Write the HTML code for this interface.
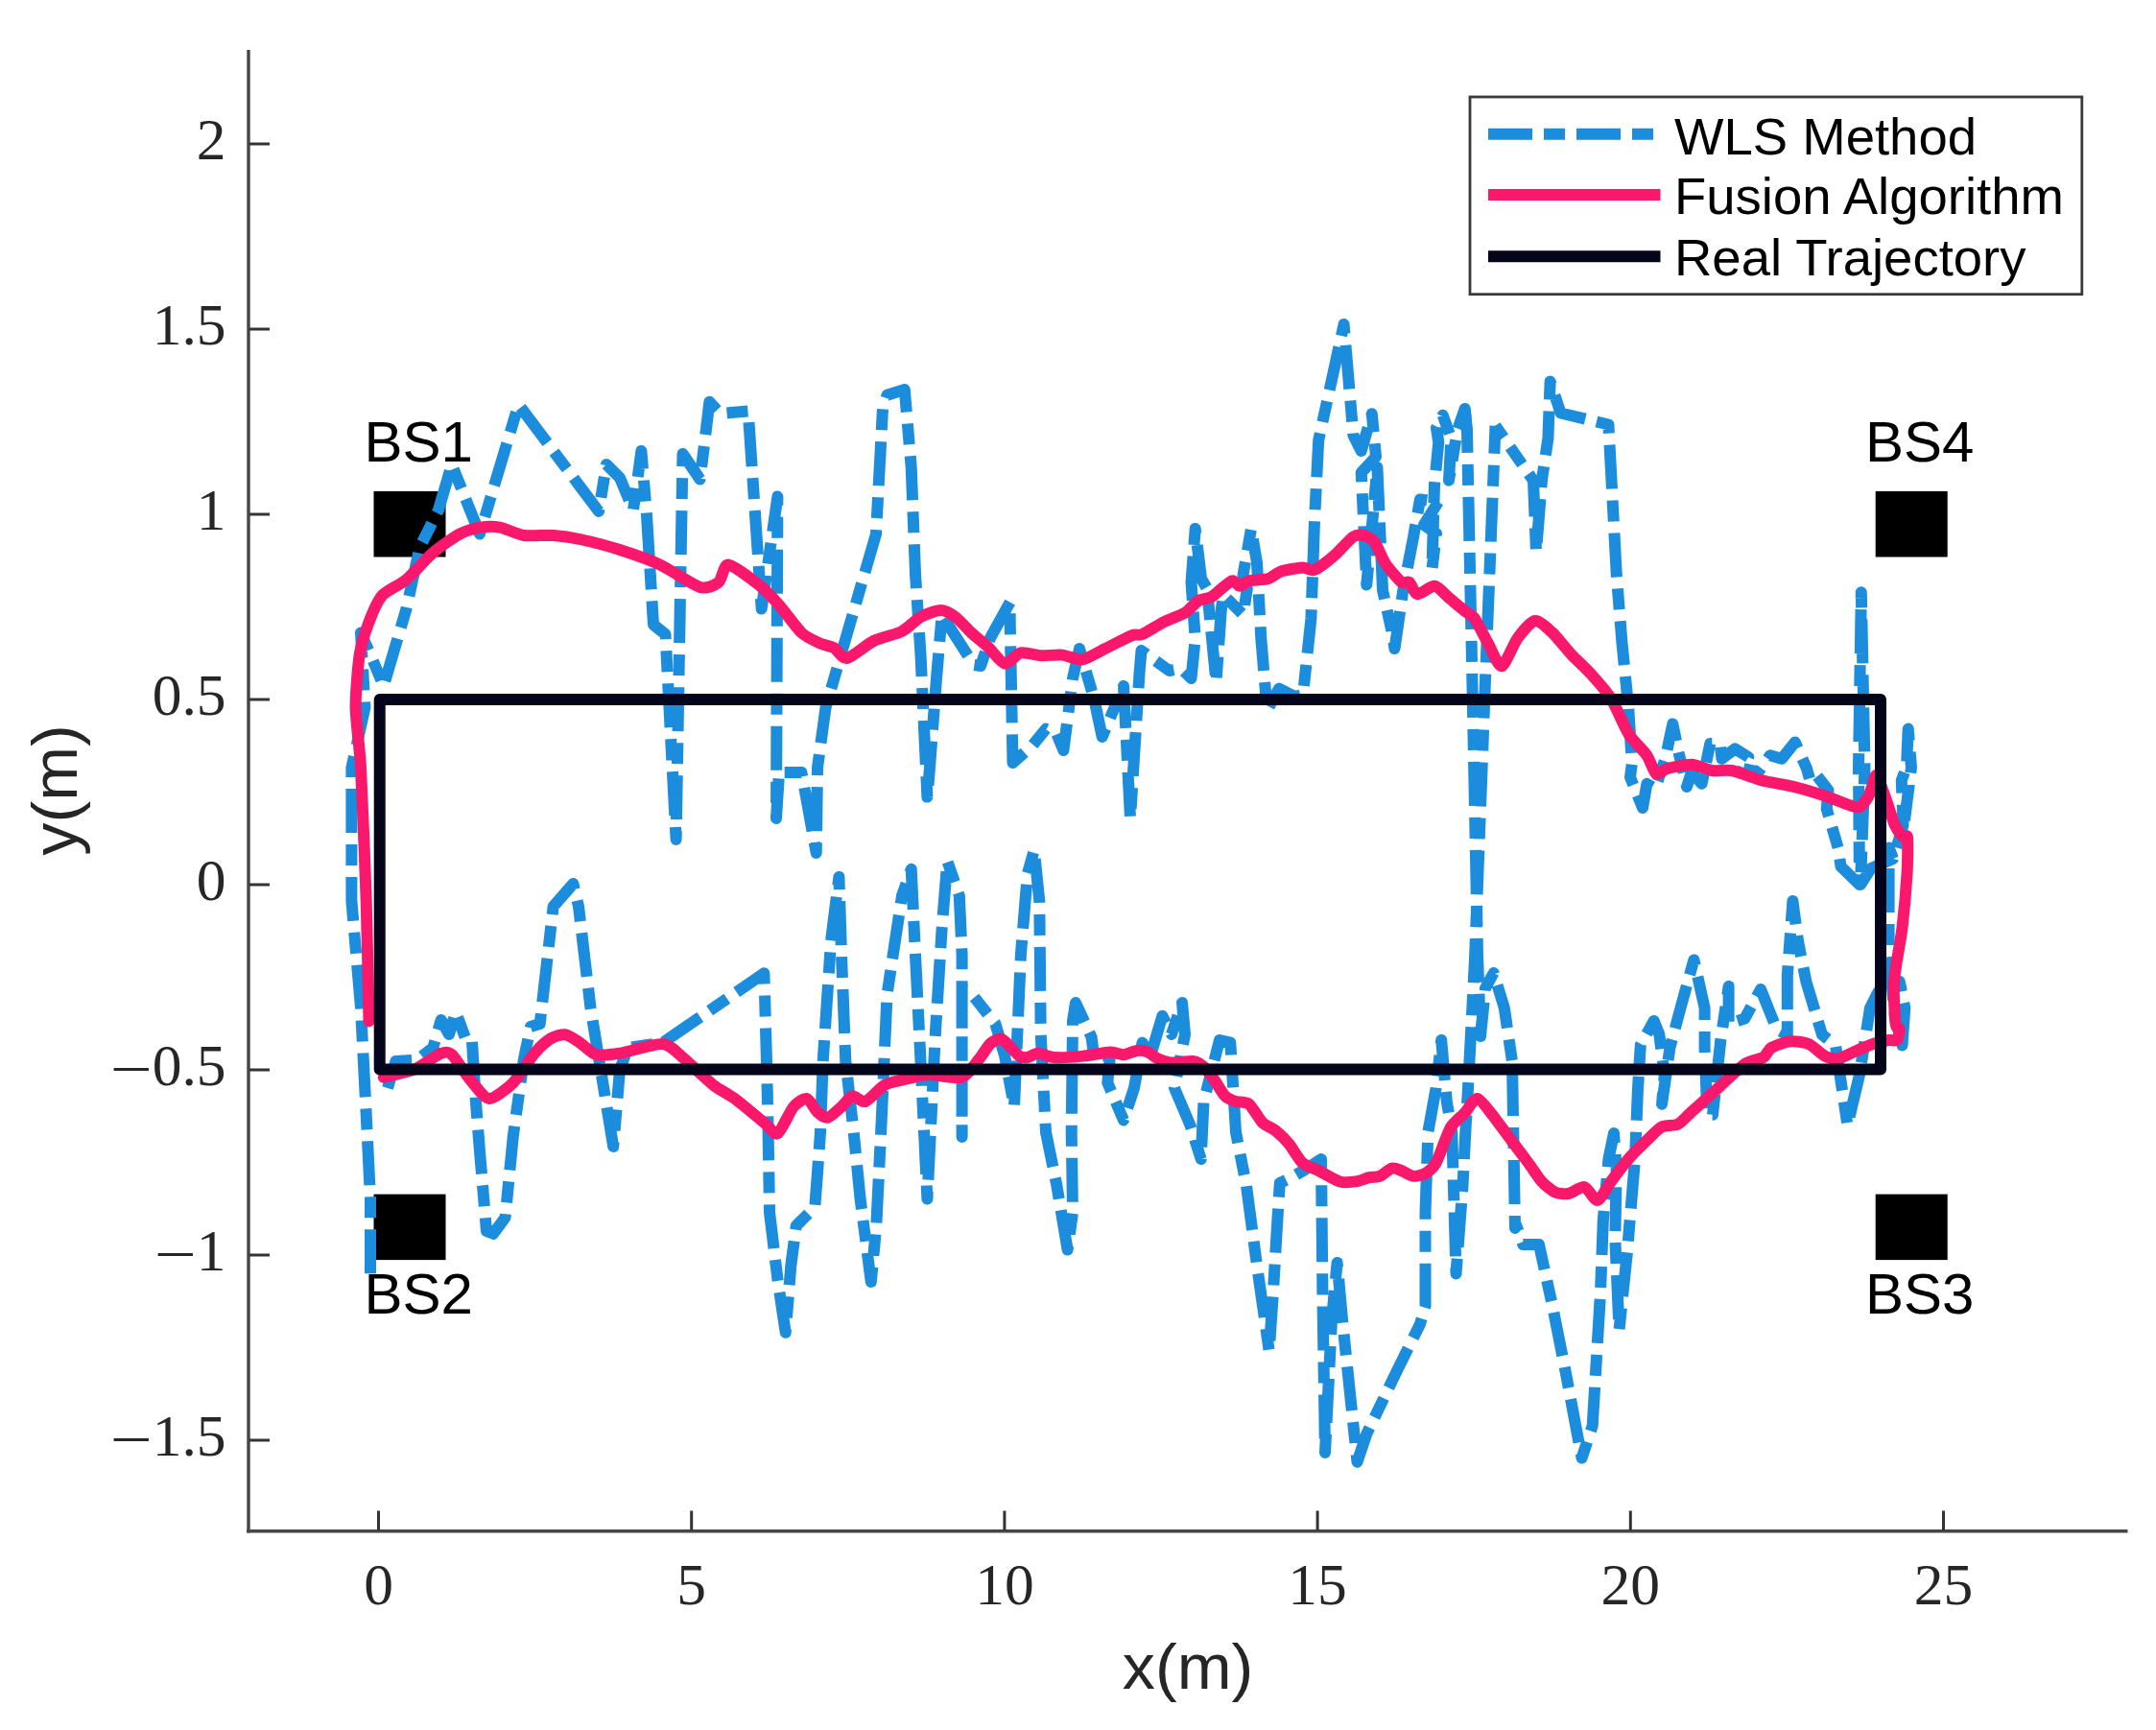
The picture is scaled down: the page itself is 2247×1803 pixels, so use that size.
<!DOCTYPE html><html><head><meta charset="utf-8"><title>Trajectory</title>
<style>html,body{margin:0;padding:0;background:#fff}svg{display:block}.tk{font-family:"Liberation Serif",serif;font-size:61.5px;fill:#262626}.lb{font-family:"Liberation Sans",sans-serif;fill:#262626}.bs{font-family:"Liberation Sans",sans-serif;font-size:60px;fill:#000}.lg{font-family:"Liberation Sans",sans-serif;font-size:54.5px;fill:#000}</style></head><body>
<svg width="2247" height="1803" viewBox="0 0 2247 1803">
<rect width="100%" height="100%" fill="#fff"/>
<g stroke="#464646" stroke-width="3.4" fill="none">
<line x1="259" y1="52" x2="259" y2="1597.5"/><line x1="257.2" y1="1595.8" x2="2217.5" y2="1595.8"/></g>
<g stroke="#333" stroke-width="3" fill="none">
<line x1="394.5" y1="1574.5" x2="394.5" y2="1595"/>
<line x1="720.7" y1="1574.5" x2="720.7" y2="1595"/>
<line x1="1046.9" y1="1574.5" x2="1046.9" y2="1595"/>
<line x1="1373.1" y1="1574.5" x2="1373.1" y2="1595"/>
<line x1="1699.3" y1="1574.5" x2="1699.3" y2="1595"/>
<line x1="2025.5" y1="1574.5" x2="2025.5" y2="1595"/>
<line x1="260" y1="150.0" x2="281" y2="150.0"/>
<line x1="260" y1="343.0" x2="281" y2="343.0"/>
<line x1="260" y1="536.0" x2="281" y2="536.0"/>
<line x1="260" y1="729.0" x2="281" y2="729.0"/>
<line x1="260" y1="922.0" x2="281" y2="922.0"/>
<line x1="260" y1="1115.0" x2="281" y2="1115.0"/>
<line x1="260" y1="1308.0" x2="281" y2="1308.0"/>
<line x1="260" y1="1501.0" x2="281" y2="1501.0"/>
</g>
<text class="tk" x="394.5" y="1671.5" text-anchor="middle">0</text>
<text class="tk" x="720.7" y="1671.5" text-anchor="middle">5</text>
<text class="tk" x="1046.9" y="1671.5" text-anchor="middle">10</text>
<text class="tk" x="1373.1" y="1671.5" text-anchor="middle">15</text>
<text class="tk" x="1699.3" y="1671.5" text-anchor="middle">20</text>
<text class="tk" x="2025.5" y="1671.5" text-anchor="middle">25</text>
<text class="tk" x="235.5" y="165.5" text-anchor="end">2</text>
<text class="tk" x="235.5" y="358.5" text-anchor="end">1.5</text>
<text class="tk" x="235.5" y="551.5" text-anchor="end">1</text>
<text class="tk" x="235.5" y="744.5" text-anchor="end">0.5</text>
<text class="tk" x="235.5" y="937.5" text-anchor="end">0</text>
<text class="tk" x="235.5" y="1130.5" text-anchor="end"><tspan dy="4" textLength="44" lengthAdjust="spacingAndGlyphs">−</tspan><tspan dy="-4">0.5</tspan></text>
<text class="tk" x="235.5" y="1323.5" text-anchor="end"><tspan dy="4" textLength="44" lengthAdjust="spacingAndGlyphs">−</tspan><tspan dy="-4">1</tspan></text>
<text class="tk" x="235.5" y="1516.5" text-anchor="end"><tspan dy="4" textLength="44" lengthAdjust="spacingAndGlyphs">−</tspan><tspan dy="-4">1.5</tspan></text>
<text class="lb" font-size="66" x="1238" y="1760" text-anchor="middle" textLength="136.4" lengthAdjust="spacingAndGlyphs">x(m)</text>
<text class="lb" font-size="66" transform="translate(79.5,823.5) rotate(-90)" text-anchor="middle" textLength="136.4" lengthAdjust="spacingAndGlyphs">y(m)</text>
<rect x="389.5" y="512.0" width="75" height="68.5" fill="#000"/>
<rect x="1954.7" y="512.0" width="75" height="68.5" fill="#000"/>
<rect x="389.5" y="1244.6" width="75" height="68.5" fill="#000"/>
<rect x="1954.7" y="1244.6" width="75" height="68.5" fill="#000"/>
<text class="bs" x="379.5" y="481" >BS1</text><text class="bs" x="1944" y="481" >BS4</text>
<text class="bs" x="379.5" y="1368.7" >BS2</text><text class="bs" x="1944" y="1368.7" >BS3</text>
<g fill="none" stroke="#1c8cdc" stroke-width="12" stroke-linejoin="round" stroke-dasharray="46 12 22 12">
<polyline points="404.0,1134.0 412.4,1106.0 434.6,1104.8 451.3,1092.0 459.7,1063.0 468.0,1078.0 475.0,1054.7 484.7,1081.0 491.7,1081.0 495.9,1148.0 500.0,1200.0 507.0,1283.0 514.0,1285.8 526.5,1269.0 534.8,1184.0 546.0,1103.4 553.0,1070.0 562.7,1067.0 576.6,944.7 597.4,921.0 603.0,944.7 615.5,1050.5 639.2,1195.0 646.0,1114.5 654.5,1092.0 690.7,1086.7 796.4,1014.3 799.2,1114.5 800.6,1180.0 802.0,1263.5 810.4,1333.0 818.7,1388.7 824.3,1319.0 829.8,1277.4 849.3,1258.0 852.0,1221.7 855.0,1180.0 857.7,1106.0 866.0,981.0 874.4,914.0 877.0,995.0 881.3,1106.0 889.7,1180.0 896.6,1249.6 907.8,1335.9 913.3,1277.4 919.0,1161.8 924.5,1036.6 940.0,933.6 949.7,905.8 954.0,995.0 959.5,1106.0 966.4,1249.6 974.8,1078.0 981.7,967.0 987.3,897.4 999.8,933.6 1002.6,995.0 1002.6,1185.0 1002.6,1030.0 1012.0,1035.0 1037.4,1067.0 1047.0,1100.0 1057.0,1153.5 1063.9,995.0 1070.8,911.0 1077.8,886.0 1083.3,939.0 1084.7,1078.0 1090.0,1180.0 1101.4,1235.7 1112.6,1302.5 1118.0,1263.5 1116.7,1180.0 1118.0,1064.0 1121.0,1045.0 1137.6,1081.0 1140.0,1100.0 1157.0,1100.0 1154.3,1128.4 1171.0,1167.4 1182.0,1134.0 1190.5,1086.7 1199.0,1100.6 1211.4,1058.8 1221.0,1078.0 1232.0,1045.0 1235.0,1078.0 1224.0,1134.0 1240.6,1173.0 1251.7,1208.0 1254.5,1148.0 1271.0,1084.0 1282.3,1086.7 1288.0,1180.0 1299.0,1235.7 1310.0,1319.0 1322.7,1408.0 1326.9,1347.0 1331.0,1277.4 1333.8,1233.0 1346.4,1227.0 1360.0,1219.0 1377.0,1208.0 1378.4,1347.0 1381.0,1514.0 1388.0,1375.0 1393.6,1316.0 1399.0,1375.0 1407.6,1458.0 1414.5,1523.7 1424.3,1494.5 1455.0,1430.5 1480.0,1380.0 1485.5,1361.0 1485.5,1263.5 1488.3,1180.0 1496.6,1134.0 1502.2,1084.0 1507.8,1148.0 1513.3,1180.0 1517.5,1327.5 1524.5,1235.7 1527.3,1180.0 1530.0,1134.0 1537.0,1000.0 1548.0,709.0 1558.5,443.7"/>
<polyline points="1526.7,426.0 1529.0,450.0 1534.4,709.0 1540.0,995.0 1543.0,1080.0 1548.0,1030.0 1556.7,1014.0 1567.8,1050.5 1576.0,1106.0 1579.0,1280.0 1580.4,1277.4 1587.3,1297.0 1604.0,1297.0 1618.0,1361.0 1631.8,1430.5 1648.5,1519.5 1659.7,1486.0 1662.5,1439.0 1668.0,1347.0 1670.8,1272.0 1676.4,1208.0 1682.0,1181.0 1684.7,1217.5 1683.3,1291.0 1687.5,1386.0 1695.9,1305.0 1704.0,1208.0 1707.0,1134.0 1709.8,1089.0 1723.7,1064.0 1729.3,1078.0 1734.8,1120.0 1732.0,1150.7 1740.4,1092.0 1751.5,1050.5 1759.9,1020.0 1765.4,1000.4 1776.6,1050.5 1776.6,1092.0 1779.3,1161.8 1785.0,1161.8 1793.3,1084.0 1801.6,1028.0 1801.6,1067.0 1818.3,1061.6 1835.0,1031.0 1851.7,1072.7 1862.8,1078.3 1862.8,1017.0 1868.4,939.0 1874.0,981.0 1882.3,1022.7 1899.0,1078.3 1913.0,1089.4 1925.5,1173.0 1938.0,1120.0 1949.0,1050.5 1957.5,1033.8 1975.0,1030.0 1979.7,1022.7 1985.3,1050.5 1982.5,1089.4 1975.0,1060.0 1968.6,995.0 1968.6,883.5 1973.0,895.0 1983.5,860.0 1981.8,813.3 1987.0,799.4 1988.7,759.6 1992.0,800.0 1985.0,855.0"/>
<polyline points="1973.0,895.0 1950.0,905.0 1939.0,922.0 1943.5,800.0 1939.8,617.3 1937.0,800.0 1938.0,922.0 1918.5,903.0 1915.9,884.4 1903.7,842.8 1905.5,823.7 1893.3,808.0 1886.4,813.3 1883.0,801.0 1870.8,773.4 1857.0,790.8 1844.8,787.3 1832.6,804.6 1817.0,801.0 1822.2,789.0 1808.3,780.4 1794.5,790.8 1792.7,775.0 1782.3,775.0 1773.6,816.8 1763.0,804.6 1758.0,820.0 1749.4,783.8 1743.3,754.4 1735.5,791.0 1725.0,822.0 1716.4,816.8 1712.0,842.0 1699.0,810.0 1700.8,796.0 1697.3,738.7 1690.4,669.4 1684.7,598.3 1676.4,442.5 1626.6,430.5 1615.6,397.6 1613.4,456.8 1607.0,500.0 1601.0,575.0 1598.0,500.7 1558.5,443.7"/>
<polyline points="1529.0,450.0 1526.7,426.0 1519.0,448.0 1510.0,500.7 1512.4,456.8 1503.7,432.7 1497.0,446.0 1499.3,461.0 1495.0,505.0 1492.5,593.0 1497.0,556.0 1484.0,547.0 1499.0,523.0 1480.0,520.4 1473.0,560.0 1462.0,617.0 1453.5,676.0 1451.0,660.0 1441.0,615.0 1435.4,487.0 1424.3,609.5 1418.7,492.6 1434.0,476.0 1429.8,431.3 1418.7,470.0 1410.4,453.6 1400.6,338.0 1374.2,459.0 1370.0,542.7 1366.4,644.8 1358.0,723.9 1349.7,726.0 1333.0,717.6 1320.6,740.5 1314.3,665.6 1310.0,586.6 1304.0,551.0 1295.6,599.0 1299.8,613.6 1295.6,640.6 1274.8,620.0 1272.7,636.5 1267.5,711.0 1262.0,655.0 1258.0,613.6 1252.0,603.0 1245.7,551.0 1241.5,607.0 1245.7,665.6 1241.5,707.0 1231.0,696.8 1218.6,699.0 1189.5,678.0 1187.4,703.0 1178.0,852.8 1171.0,715.0 1148.7,768.0 1140.4,729.0 1125.0,676.0 1118.0,707.0 1108.4,782.0 1101.4,765.0 1090.0,759.7 1076.4,776.4 1055.5,795.0 1052.7,648.0 1052.7,627.5 1032.0,665.0 1022.0,694.0 1015.0,693.0 990.0,654.0 981.7,640.0 976.0,707.0 969.0,800.0 966.4,830.6 959.5,682.0 954.0,598.0 949.7,487.0 942.8,406.0 924.5,411.8 920.0,425.8 913.0,556.6 860.5,737.5 852.0,800.0 850.7,889.0 835.4,805.0 812.0,805.0 809.0,853.0 810.4,517.6 793.7,634.5 779.7,428.5 750.5,431.0 739.4,418.8 729.6,499.5 711.5,473.0 704.6,875.0 693.5,661.0 681.0,651.0 674.0,537.0 668.4,470.0 660.0,531.5 646.0,498.0 632.0,484.0 624.0,533.0 540.4,421.6 500.0,556.6 470.8,484.0 457.0,531.5 437.4,570.5 423.5,634.5 399.8,715.0 386.0,682.0 376.0,659.5 380.4,737.5 366.4,800.0 366.4,939.0 376.0,1050.5 381.7,1161.8 386.0,1249.6 386.0,1330.0"/>
</g>
<path fill="none" stroke="#f9186c" stroke-width="12" stroke-linejoin="round" stroke-linecap="round" d="M399.8,1122.8 C403.6,1121.8 424.6,1117.5 431.8,1114.5 C439.0,1111.5 455.0,1099.7 459.7,1097.8 C464.4,1095.9 467.1,1095.7 470.8,1099.0 C474.5,1102.3 485.6,1120.1 490.3,1125.6 C495.0,1131.1 504.5,1144.7 509.8,1145.0 C515.1,1145.3 529.1,1134.1 534.8,1128.4 C540.5,1122.7 552.3,1103.3 557.0,1097.8 C561.7,1092.3 570.0,1084.8 573.8,1082.5 C577.6,1080.2 585.3,1077.8 589.0,1078.3 C592.7,1078.8 600.6,1084.2 604.4,1086.7 C608.2,1089.2 616.0,1097.7 621.0,1099.0 C626.0,1100.3 637.6,1099.1 646.0,1097.8 C654.4,1096.5 682.7,1087.3 690.7,1088.0 C698.7,1088.7 706.7,1098.2 713.0,1103.4 C719.3,1108.6 737.3,1126.0 743.6,1131.0 C749.9,1136.0 759.5,1140.3 765.8,1145.0 C772.1,1149.7 791.0,1165.6 796.4,1170.0 C801.8,1174.4 806.7,1183.3 810.4,1181.3 C814.1,1179.3 823.3,1157.9 827.0,1153.5 C830.7,1149.1 838.0,1144.3 841.0,1145.0 C844.0,1145.7 849.4,1156.6 852.0,1159.0 C854.6,1161.4 860.0,1165.3 863.0,1164.6 C866.0,1163.9 874.0,1156.2 877.0,1153.5 C880.0,1150.8 885.3,1143.0 888.3,1142.3 C891.3,1141.6 898.0,1149.4 902.0,1148.0 C906.0,1146.6 917.1,1133.7 921.7,1131.0 C926.3,1128.3 934.5,1126.9 940.0,1125.6 C945.5,1124.3 960.3,1120.3 967.8,1120.0 C975.3,1119.7 996.3,1124.8 1002.6,1122.8 C1008.9,1120.8 1017.2,1107.6 1020.7,1103.4 C1024.2,1099.2 1029.1,1090.5 1031.8,1088.0 C1034.5,1085.5 1040.7,1082.3 1043.0,1082.5 C1045.3,1082.7 1049.0,1087.2 1051.3,1089.4 C1053.6,1091.6 1060.2,1099.1 1062.5,1100.6 C1064.8,1102.1 1068.5,1102.3 1070.8,1102.0 C1073.1,1101.7 1078.7,1097.8 1082.0,1097.8 C1085.3,1097.8 1092.9,1101.7 1098.6,1102.0 C1104.3,1102.3 1122.3,1101.3 1129.3,1100.6 C1136.3,1099.9 1152.0,1096.6 1157.0,1096.4 C1162.0,1096.2 1167.6,1099.4 1171.0,1099.2 C1174.4,1099.0 1182.0,1095.3 1185.0,1095.0 C1188.0,1094.7 1193.4,1095.4 1196.0,1096.4 C1198.6,1097.4 1204.0,1102.1 1207.0,1103.4 C1210.0,1104.7 1216.6,1107.2 1221.0,1107.5 C1225.4,1107.8 1239.4,1105.5 1243.4,1106.0 C1247.4,1106.5 1251.8,1109.3 1254.5,1111.7 C1257.2,1114.1 1262.9,1121.9 1265.6,1125.6 C1268.3,1129.3 1274.1,1139.6 1276.8,1142.3 C1279.5,1145.0 1284.9,1147.0 1287.9,1148.0 C1290.9,1149.0 1298.5,1148.1 1301.8,1150.7 C1305.1,1153.3 1312.4,1166.7 1315.7,1170.0 C1319.0,1173.3 1326.3,1175.8 1329.6,1178.5 C1332.9,1181.2 1340.3,1188.4 1343.6,1192.4 C1346.9,1196.4 1353.8,1208.7 1357.5,1212.0 C1361.2,1215.3 1369.5,1217.7 1374.2,1220.0 C1378.9,1222.3 1391.7,1230.0 1396.4,1231.4 C1401.1,1232.8 1409.3,1231.9 1413.0,1231.4 C1416.7,1230.9 1424.0,1227.9 1427.0,1227.2 C1430.0,1226.5 1435.4,1227.0 1438.2,1225.8 C1441.0,1224.6 1448.0,1218.2 1450.7,1217.5 C1453.4,1216.8 1457.8,1219.0 1460.5,1220.0 C1463.2,1221.0 1470.0,1225.4 1473.0,1225.8 C1476.0,1226.2 1482.7,1224.7 1485.5,1223.0 C1488.3,1221.3 1493.9,1216.7 1496.6,1212.0 C1499.3,1207.3 1505.8,1188.7 1507.8,1184.0 C1509.8,1179.3 1511.0,1176.0 1513.3,1173.0 C1515.6,1170.0 1524.1,1162.4 1527.3,1159.0 C1530.5,1155.6 1536.1,1144.0 1540.0,1145.0 C1543.9,1146.0 1555.2,1162.0 1559.5,1167.4 C1563.8,1172.8 1572.0,1184.2 1576.0,1189.6 C1580.0,1195.0 1589.2,1207.0 1592.9,1212.0 C1596.6,1217.0 1603.5,1227.7 1606.8,1231.4 C1610.1,1235.1 1617.4,1241.0 1620.7,1242.5 C1624.0,1244.0 1630.9,1244.7 1634.6,1244.0 C1638.3,1243.3 1647.7,1236.2 1651.3,1237.0 C1654.9,1237.8 1661.7,1251.7 1665.0,1251.0 C1668.3,1250.3 1675.0,1236.8 1679.0,1231.4 C1683.0,1226.0 1693.9,1211.6 1698.6,1206.3 C1703.3,1201.0 1714.0,1190.7 1718.0,1186.9 C1722.0,1183.1 1728.3,1176.1 1732.0,1174.3 C1735.7,1172.5 1745.0,1173.4 1748.7,1171.6 C1752.4,1169.8 1757.7,1163.5 1762.7,1159.0 C1767.7,1154.5 1783.8,1140.0 1790.5,1134.0 C1797.2,1128.0 1812.6,1112.8 1818.3,1109.0 C1824.0,1105.2 1834.5,1104.0 1837.8,1102.0 C1841.1,1100.0 1842.7,1094.0 1846.0,1092.0 C1849.3,1090.0 1860.9,1085.8 1865.6,1085.3 C1870.3,1084.8 1880.7,1086.2 1885.0,1088.0 C1889.3,1089.8 1898.1,1098.8 1901.8,1100.6 C1905.5,1102.4 1911.7,1104.1 1915.7,1103.4 C1919.7,1102.7 1930.6,1096.8 1935.0,1095.0 C1939.4,1093.2 1948.0,1089.3 1952.0,1088.0 C1956.0,1086.7 1965.6,1084.5 1968.6,1084.0 C1971.6,1083.5 1975.7,1085.4 1977.0,1084.0 C1978.3,1082.6 1979.9,1074.7 1979.7,1072.7 C1979.5,1070.7 1976.3,1073.0 1975.6,1067.0 C1974.9,1061.0 1973.2,1034.7 1974.0,1022.7 C1974.8,1010.7 1980.9,980.4 1982.5,967.0 C1984.1,953.6 1986.8,922.3 1987.5,911.0 C1988.2,899.7 1988.5,877.6 1988.0,873.0 C1987.5,868.4 1985.1,873.9 1983.5,872.3 C1981.9,870.7 1976.9,864.6 1974.8,860.0 C1972.7,855.4 1968.3,840.2 1966.0,834.0 C1963.7,827.8 1957.8,809.7 1956.0,808.0 C1954.2,806.3 1952.1,817.3 1951.0,820.0 C1949.9,822.7 1948.5,828.2 1947.0,830.7 C1945.5,833.2 1940.7,840.0 1938.4,841.0 C1936.1,842.0 1931.9,840.5 1928.0,839.3 C1924.1,838.1 1912.4,833.0 1905.5,830.7 C1898.6,828.4 1879.1,822.4 1870.8,820.3 C1862.5,818.2 1843.9,815.4 1836.0,813.3 C1828.1,811.2 1811.1,804.2 1804.9,803.0 C1798.7,801.8 1789.0,803.7 1784.0,803.0 C1779.0,802.3 1768.8,797.0 1763.2,796.8 C1757.6,796.6 1741.7,800.0 1737.2,801.2 C1732.7,802.4 1728.5,808.1 1726.0,806.4 C1723.5,804.7 1719.8,792.3 1716.4,787.3 C1713.0,782.3 1701.8,771.9 1697.3,764.8 C1692.8,757.7 1683.8,735.6 1679.0,728.0 C1674.2,720.4 1662.0,706.8 1657.0,701.3 C1652.0,695.8 1642.1,686.8 1637.4,681.8 C1632.7,676.8 1622.5,663.7 1618.0,659.5 C1613.5,655.3 1604.2,646.3 1599.8,647.0 C1595.4,647.7 1585.9,659.3 1581.7,665.0 C1577.5,670.7 1568.7,693.6 1565.0,694.3 C1561.3,695.0 1554.0,676.0 1551.0,670.7 C1548.0,665.4 1541.8,653.3 1540.0,650.0 C1538.2,646.7 1537.1,644.5 1535.6,643.0 C1534.1,641.5 1530.3,639.7 1527.3,637.3 C1524.3,634.9 1514.4,626.6 1510.5,623.4 C1506.6,620.2 1499.2,611.3 1495.2,610.8 C1491.2,610.3 1480.4,619.7 1477.2,619.2 C1474.0,618.7 1470.8,608.2 1468.8,606.7 C1466.8,605.2 1463.5,609.0 1460.5,606.7 C1457.5,604.4 1447.1,592.2 1443.8,587.2 C1440.5,582.2 1435.3,568.5 1432.6,565.0 C1429.9,561.5 1424.2,558.7 1421.5,558.0 C1418.8,557.3 1414.1,556.9 1410.4,559.4 C1406.7,561.9 1395.7,574.6 1390.9,578.8 C1386.1,583.0 1374.0,592.5 1370.0,594.0 C1366.0,595.5 1361.7,591.2 1357.5,591.4 C1353.3,591.6 1339.5,594.1 1335.2,595.5 C1330.9,596.9 1325.3,602.1 1321.3,603.3 C1317.3,604.5 1305.3,604.4 1301.8,605.3 C1298.3,606.2 1294.2,610.8 1292.0,610.8 C1289.8,610.8 1287.2,604.0 1283.7,605.3 C1280.2,606.6 1267.0,619.5 1262.8,622.0 C1258.6,624.5 1252.3,624.0 1249.0,626.0 C1245.7,628.0 1239.4,636.0 1235.0,638.7 C1230.6,641.4 1218.0,645.7 1212.7,648.4 C1207.4,651.1 1194.5,659.3 1190.5,661.0 C1186.5,662.7 1184.1,660.5 1179.4,662.3 C1174.7,664.1 1157.7,673.2 1151.5,676.2 C1145.3,679.2 1133.2,686.6 1127.9,687.4 C1122.6,688.2 1112.2,683.1 1107.0,682.6 C1101.8,682.1 1089.9,683.5 1084.7,683.2 C1079.5,682.9 1068.4,679.4 1063.9,680.4 C1059.4,681.4 1051.2,692.3 1047.0,691.5 C1042.8,690.7 1033.2,677.3 1029.0,673.5 C1024.8,669.7 1016.4,663.2 1012.4,659.5 C1008.4,655.8 999.5,645.8 995.7,643.0 C991.9,640.2 984.7,636.0 980.4,636.0 C976.1,636.0 964.3,640.4 959.5,643.0 C954.7,645.6 945.9,655.0 940.0,658.0 C934.1,661.0 917.4,664.6 910.5,668.0 C903.6,671.4 887.7,685.2 882.7,686.0 C877.7,686.8 872.3,676.8 869.0,675.0 C865.7,673.2 859.0,672.6 855.0,670.7 C851.0,668.8 840.4,664.2 835.4,659.5 C830.4,654.8 818.3,637.7 813.0,631.7 C807.7,625.7 797.5,614.7 791.0,609.5 C784.5,604.3 764.0,588.9 759.0,588.6 C754.0,588.3 752.5,603.9 749.0,606.7 C745.5,609.5 736.9,614.2 729.6,612.0 C722.3,609.8 698.0,593.3 688.0,588.6 C678.0,583.9 656.0,576.2 646.0,573.0 C636.0,569.8 612.7,563.8 604.4,562.0 C596.1,560.2 583.6,558.5 576.6,558.0 C569.6,557.5 552.7,559.0 546.0,558.0 C539.3,557.0 526.4,550.6 521.0,549.6 C515.6,548.6 506.4,548.8 501.4,549.6 C496.4,550.4 485.0,553.4 479.0,556.6 C473.0,559.8 458.0,570.3 451.3,576.0 C444.6,581.7 429.8,598.6 423.5,604.0 C417.2,609.4 403.1,615.3 398.4,620.6 C393.7,625.9 387.3,641.1 384.5,648.4 C381.7,655.7 376.5,671.1 374.8,681.8 C373.1,692.5 370.5,723.3 370.6,737.5 C370.7,751.7 374.7,775.8 376.0,800.0 C377.3,824.2 380.7,907.3 381.7,939.0 C382.7,970.7 384.2,1049.4 384.5,1064.4"/>
<rect x="395.7" y="729" width="1564.3" height="385.5" fill="none" stroke="#04041a" stroke-width="12" stroke-linejoin="round"/>
<rect x="1532" y="101" width="637.8" height="205.7" fill="#fff" stroke="#3a3a3a" stroke-width="2.8"/>
<line x1="1551" y1="139.7" x2="1730.5" y2="139.7" stroke="#1c8cdc" stroke-width="12" stroke-dasharray="46 12 22 12"/>
<line x1="1551" y1="203" x2="1730.5" y2="203" stroke="#f9186c" stroke-width="12"/>
<line x1="1551" y1="267.2" x2="1730.5" y2="267.2" stroke="#04041a" stroke-width="12"/>
<text class="lg" x="1745" y="160.5">WLS Method</text>
<text class="lg" x="1745" y="223">Fusion Algorithm</text>
<text class="lg" x="1745" y="287">Real Trajectory</text>
</svg></body></html>
